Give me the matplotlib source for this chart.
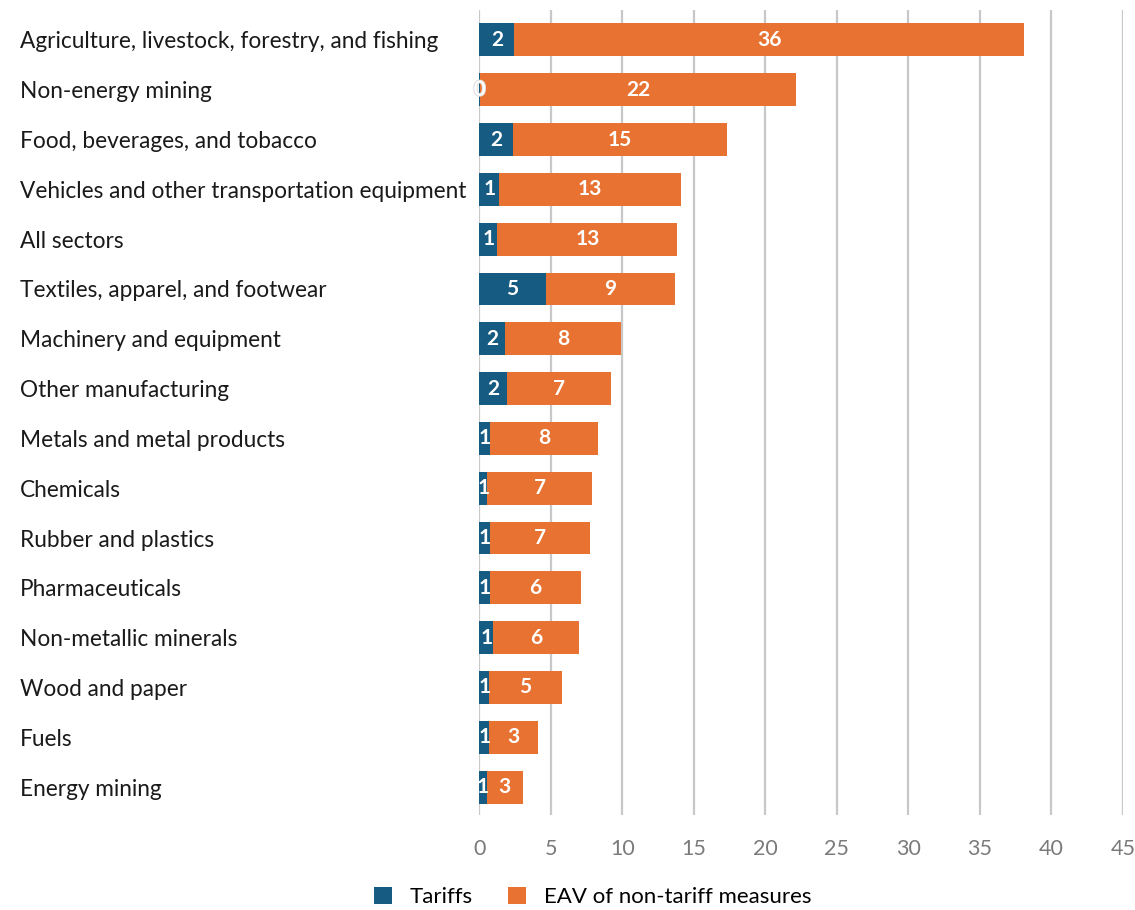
import matplotlib.pyplot as plt
import matplotlib.patheffects as pe
import numpy as np

sectors = ["Agriculture, livestock, forestry, and fishing", "Non-energy mining",
           "Food, beverages, and tobacco", "Vehicles and other transportation equipment",
           "All sectors", "Textiles, apparel, and footwear", "Machinery and equipment",
           "Other manufacturing", "Metals and metal products", "Chemicals",
           "Rubber and plastics", "Pharmaceuticals", "Non-metallic minerals",
           "Wood and paper", "Fuels", "Energy mining"]
tariffs = [2.45, 0.05, 2.35, 1.40, 1.25, 4.66, 1.77, 1.91, 0.75, 0.56,
           0.75, 0.75, 0.98, 0.68, 0.68, 0.52]
ntm = [35.65, 22.1, 14.97, 12.7, 12.6, 9.0, 8.14, 7.28, 7.53, 7.34,
       6.99, 6.34, 5.99, 5.08, 3.45, 2.51]

blue = "#155b82"
orange = "#e87231"
plt.rcParams['font.family'] = ['Lato', 'DejaVu Sans']

fig = plt.figure(figsize=(11.35, 9.10), dpi=100)
ax = fig.add_axes([0.4223, 0.1044, 0.567, 0.8846])

y = np.arange(len(sectors))
h = 0.66
b1 = ax.barh(y, tariffs, height=h, color=blue, zorder=3)
b2 = ax.barh(y, ntm, left=tariffs, height=h, color=orange, zorder=3)

# value labels, centred in each segment
for i in range(len(sectors)):
    t = ax.text(tariffs[i] / 2, y[i], str(round(tariffs[i])), ha='center', va='center',
                color='white', fontsize=15, fontweight='bold', zorder=4)
    if tariffs[i] < 0.2:
        t.set_path_effects([pe.withStroke(linewidth=1.2, foreground='#d8d8d8')])
    ax.text(tariffs[i] + ntm[i] / 2, y[i], str(round(ntm[i])), ha='center', va='center',
            color='white', fontsize=15, fontweight='bold', zorder=4)

ax.set_xlim(0, 45)
ax.set_ylim(15.56, -0.6)
ax.set_xticks(np.arange(0, 46, 5))
ax.grid(axis='x', color='#c8c8c8', linewidth=1.6, zorder=0)
ax.set_yticks(y)
ax.set_yticklabels(sectors, fontsize=16.3, color='#1a1a1a')
for lab in ax.get_yticklabels():
    lab.set_horizontalalignment('left')
ax.tick_params(axis='y', length=0, pad=331)
ax.tick_params(axis='x', length=0, pad=17, labelsize=15.5, labelcolor='#7a7a7a')
for s in ax.spines.values():
    s.set_visible(False)

fig.legend([b1, b2], ["Tariffs", "EAV of non-tariff measures"], loc='center',
           bbox_to_anchor=(0.522, 0.014), ncol=2, frameon=False, fontsize=16,
           handlelength=0.8, handleheight=0.8, columnspacing=1.6, handletextpad=0.8)

fig.savefig("out.png", dpi=100)
